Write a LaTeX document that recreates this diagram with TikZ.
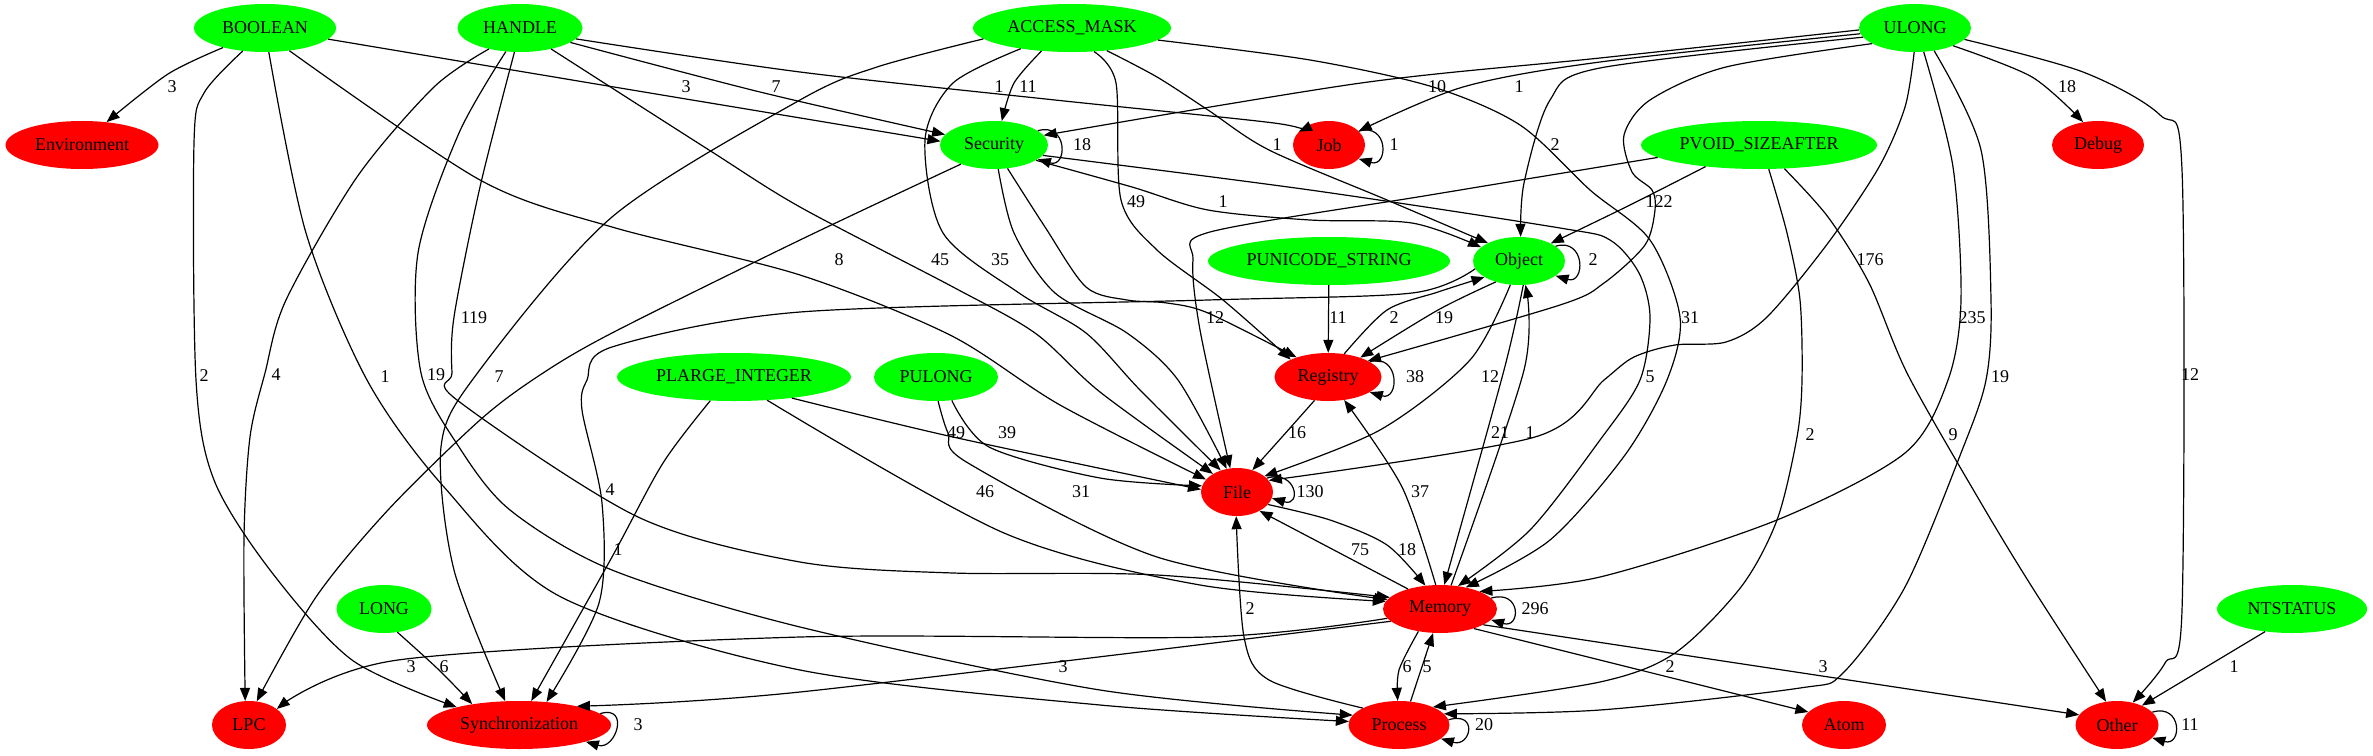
\documentclass[tikz,border=0pt]{standalone}
\usepackage{fontspec}
\setmainfont{Liberation Serif}
\usetikzlibrary{shapes.geometric,arrows.meta}
\definecolor{gvgreen}{RGB}{0,255,0}
\definecolor{gvred}{RGB}{255,0,0}
\newcommand\gvfont{\fontsize{18}{20}\selectfont}
\begin{document}
\begin{tikzpicture}[x=1pt,y=-1pt,
  gn/.style={ellipse, fill=gvgreen, inner sep=0pt, minimum height=48pt, font=\gvfont},
  rn/.style={ellipse, fill=gvred, inner sep=0pt, minimum height=48pt, font=\gvfont},
  conn/.style={line width=1.2pt, -{Triangle[length=13pt,width=10pt]}},
  lbl/.style={font=\gvfont, inner sep=0pt},
  loopc/.style={line width=1.2pt, -{Triangle[length=13pt,width=10pt]}}]
\useasboundingbox (0,0) rectangle (2373,755);
% nodes
\node[gn, minimum width=142pt] (BOOLEAN) at (265,28) {BOOLEAN};
\node[gn, minimum width=125pt] (HANDLE) at (520,28) {HANDLE};
\node[gn, minimum width=198pt] (ACCESS) at (1072,28) {ACCESS\_MASK};
\node[gn, minimum width=112pt] (ULONG) at (1915,28) {ULONG};
\node[rn, minimum width=153pt] (Environment) at (82,145) {Environment};
\node[gn, minimum width=108pt] (Security) at (994,145) {Security};
\node[rn, minimum width=72pt] (Job) at (1329,145) {Job};
\node[gn, minimum width=236pt] (PVOID) at (1759,145) {PVOID\_SIZEAFTER};
\node[rn, minimum width=92pt] (Debug) at (2098,145) {Debug};
\node[gn, minimum width=242pt] (PUNICODE) at (1329,261) {PUNICODE\_STRING};
\node[gn, minimum width=92pt] (Object) at (1519,261) {Object};
\node[gn, minimum width=234pt] (PLARGE) at (734,377) {PLARGE\_INTEGER};
\node[gn, minimum width=124pt] (PULONG) at (936,377) {PULONG};
\node[rn, minimum width=107pt] (Registry) at (1328,377) {Registry};
\node[rn, minimum width=72pt] (File) at (1237,492) {File};
\node[rn, minimum width=114pt] (Memory) at (1440,609) {Memory};
\node[gn, minimum width=95pt] (LONG) at (384,609) {LONG};
\node[gn, minimum width=150pt] (NTSTATUS) at (2292,609) {NTSTATUS};
\node[rn, minimum width=74pt] (LPC) at (249,725) {LPC};
\node[rn, minimum width=184pt] (Sync) at (519,725) {Synchronization};
\node[rn, minimum width=101pt] (Process) at (1399,725) {Process};
\node[rn, minimum width=84pt] (Atom) at (1844,725) {Atom};
\node[rn, minimum width=83pt] (Other) at (2117,725) {Other};
% edges
\draw[conn] plot[smooth] coordinates {(BOOLEAN.-155) (168,74) (Environment.43)};
\draw[conn] plot[smooth] coordinates {(BOOLEAN.-10) (620,88) (Security.176)};
\draw[conn] plot[smooth] coordinates {(BOOLEAN.-134) (204,93) (194,143) (196,380) (214,480) (270,570) (352,660) (Sync.164)};
\draw[conn] plot[smooth] coordinates {(BOOLEAN.-81) (306,233) (367,380) (444,487) (561,597) (800,670) (1100,705) (Process.176)};
\draw[conn] plot[smooth] coordinates {(BOOLEAN.-43) (480,180) (612,227) (800,275) (950,335) (1060,405) (File.158)};
\draw[conn] plot[smooth] coordinates {(HANDLE.-16) (760,92) (Security.168)};
\draw[conn] plot[smooth] coordinates {(HANDLE.-11) (800,72) (1055,100) (1274,123) (Job.156)};
\draw[conn] plot[smooth] coordinates {(HANDLE.-34) (709,150) (800,207) (953,287) (1035,333) (1100,392) (File.143)};
\draw[conn] plot[smooth] coordinates {(HANDLE.-146) (434,87) (357,177) (286,300) (265,373) (250,437) (244,537) (LPC.99)};
\draw[conn] plot[smooth] coordinates {(HANDLE.-121) (459,133) (418,253) (421,373) (459,447) (510,510) (612,570) (800,627) (1100,690) (Process.168)};
\draw[conn] plot[smooth] coordinates {(HANDLE.-103) (480,187) (454,317) (452,373) (457,400) (638,517) (800,562) (953,573) (1157,575) (Memory.167)};
\draw[conn] plot[smooth] coordinates {(ACCESS.-143) (1014,83) (Security.72)};
\draw[conn] plot[smooth] coordinates {(ACCESS.-173) (877,67) (800,100) (612,217) (476,375) (441,447) (454,570) (Sync.120)};
\draw[conn] plot[smooth] coordinates {(ACCESS.-158) (953,83) (925,140) (943,233) (1019,293) (1086,333) (1140,390) (File.127)};
\draw[conn] plot[smooth] coordinates {(ACCESS.-47) (1116,83) (1121,200) (1157,250) (1223,300) (Registry.155)};
\draw[conn] plot[smooth] coordinates {(ACCESS.-33) (1157,77) (1208,110) (1269,150) (1387,200) (Object.150)};
\draw[conn] plot[smooth] coordinates {(ACCESS.-8) (1310,60) (1433,87) (1520,125) (1590,190) (1650,240) (1680,317) (1667,380) (1625,455) (1550,540) (Memory.40)};
\draw[conn] plot[smooth] coordinates {(ULONG.182) (1600,58) (1361,83) (Security.11)};
\draw[conn] plot[smooth] coordinates {(ULONG.186) (1600,62) (1463,87) (Job.25)};
\draw[conn] plot[smooth] coordinates {(ULONG.190) (1600,68) (1550,100) (1524,183) (Object.86)};
\draw[conn] plot[smooth] coordinates {(ULONG.200) (1726,67) (1650,100) (1624,135) (1632,172) (1652,190) (1655,210) (1645,245) (1604,283) (1560,305) (Registry.22)};
\draw[conn] plot[smooth] coordinates {(ULONG.-92) (1905,107) (1879,167) (1828,243) (1767,317) (1726,342) (1675,345) (1634,357) (1604,380) (1535,437) (File.20)};
\draw[conn] plot[smooth] coordinates {(ULONG.-70) (1953,167) (1961,300) (1948,380) (1905,453) (1777,520) (1600,577) (Memory.24)};
\draw[conn] plot[smooth] coordinates {(ULONG.-50) (1981,150) (1991,300) (1986,380) (1961,453) (1905,587) (1843,673) (1800,688) (1600,710) (Process.14)};
\draw[conn] plot[smooth] coordinates {(ULONG.-25) (2032,77) (Debug.123)};
\draw[conn] plot[smooth] coordinates {(ULONG.-13) (2083,72) (2160,115) (2182,170) (2182,610) (2165,663) (Other.55)};
\draw[conn] plot[smooth] coordinates {(PVOID.202) (1630,205) (Object.29)};
\draw[conn] plot[smooth] coordinates {(PVOID.187) (1430,195) (1210,232) (1193,260) (1200,330) (File.106)};
\draw[conn] plot[smooth] coordinates {(PVOID.-68) (1787,233) (1800,300) (1802,380) (1797,437) (1777,520) (1741,587) (1675,653) (1600,682) (Process.28)};
\draw[conn] plot[smooth] coordinates {(PVOID.-43) (1828,217) (1869,283) (1908,375) (1981,503) (2032,587) (Other.115)};
\draw[conn] (PUNICODE) -- (Registry);
\draw[conn] plot[smooth] coordinates {(Object.-138) (1438,310) (Registry.31)};
\draw[conn] plot[smooth] coordinates {(Registry.55) (1387,310) (1438,292) (Object.-155)};
\draw[conn] plot[smooth] coordinates {(Object.-170) (1412,293) (1208,300) (800,312) (612,347) (587,380) (582,410) (602,503) (599,603) (Sync.40)};
\draw[conn] plot[smooth] coordinates {(Object.-110) (1470,360) (1380,430) (File.30)};
\draw[conn] plot[smooth] coordinates {(Object.-80) (1504,370) (Memory.80)};
\draw[conn] plot[smooth] coordinates {(Memory.65) (1524,370) (Object.-75)};
\draw[conn] plot[smooth] coordinates {(PLARGE.-135) (663,463) (612,557) (Sync.63)};
\draw[conn] plot[smooth] coordinates {(PLARGE.-20) (953,437) (File.176)};
\draw[conn] plot[smooth] coordinates {(PLARGE.-35) (1004,533) (1200,585) (Memory.172)};
\draw[conn] plot[smooth] coordinates {(PULONG.-56) (989,447) (1100,478) (File.170)};
\draw[conn] plot[smooth] coordinates {(PULONG.-85) (948,433) (968,463) (1157,557) (Memory.170)};
\draw[conn] (Memory.148) -- (File.-40);
\draw[conn] plot[smooth] coordinates {(File.-22) (1330,520) (1387,545) (Memory.122)};
\draw[conn] plot[smooth] coordinates {(Memory.100) (1402,487) (Registry.-55)};
\draw[conn] plot[smooth] coordinates {(Memory.190) (1208,637) (800,637) (398,660) (LPC.30)};
\draw[conn] plot[smooth] coordinates {(Memory.194) (800,692) (Sync.18)};
\draw[conn] plot[smooth] coordinates {(Memory.-134) (1399,670) (Process.93)};
\draw[conn] (Process.64) -- (Memory.-106);
\draw[conn] (Memory.-30) -- (Atom.160);
\draw[conn] (Memory.-20) -- (Other.165);
\draw[conn] plot[smooth] coordinates {(Process.155) (1269,680) (1244,637) (File.-92)};
\draw[conn] plot[smooth] coordinates {(Registry.-120) (1282,437) (File.55)};
\draw[conn] plot[smooth] coordinates {(LONG.-60) (439,670) (Sync.156)};
\draw[conn] (NTSTATUS.-140) -- (Other.38);
\draw[conn] plot[smooth] coordinates {(Security.-150) (800,240) (612,333) (540,375) (480,420) (388,510) (316,597) (LPC.72)};
\draw[conn] plot[smooth] coordinates {(Security.-80) (1014,233) (1055,293) (1127,333) (1178,380) (File.114)};
\draw[conn] plot[smooth] coordinates {(Security.-60) (1045,227) (1086,287) (1127,300) (1167,303) (1208,313) (Registry.148)};
\draw[conn] plot[smooth] coordinates {(Security.-20) (1132,187) (1208,210) (1310,220) (1412,223) (Object.160)};
\draw[conn] plot[smooth] coordinates {(Security.-12) (1310,190) (1560,228) (1610,240) (1639,273) (1650,317) (1640,380) (1600,440) (1530,530) (Memory.52)};
% self loops
\draw[loopc] (Security.18) .. controls +(30pt,9pt) and +(30pt,-9pt) .. (Security.-18);
\draw[loopc] (Job.25) .. controls +(30pt,9pt) and +(30pt,-9pt) .. (Job.-25);
\draw[loopc] (Object.22) .. controls +(30pt,9pt) and +(30pt,-9pt) .. (Object.-22);
\draw[loopc] (Registry.20) .. controls +(30pt,9pt) and +(30pt,-9pt) .. (Registry.-20);
\draw[loopc] (File.25) .. controls +(30pt,9pt) and +(30pt,-9pt) .. (File.-10);
\draw[loopc] (Memory.12) .. controls +(30pt,9pt) and +(30pt,-9pt) .. (Memory.-12);
\draw[loopc] (Process.6) .. controls +(30pt,9pt) and +(30pt,-9pt) .. (Process.-18);
\draw[loopc] (Sync.8) .. controls +(30pt,9pt) and +(30pt,-9pt) .. (Sync.-14);
\draw[loopc] (Other.20) .. controls +(30pt,9pt) and +(30pt,-9pt) .. (Other.-20);
% labels
\node[lbl] (l1) at (172,87) {3};
\node[lbl] (l2) at (686,87) {3};
\node[lbl] (l3) at (204,376) {2};
\node[lbl] (l4) at (385,377) {1};
\node[lbl] (l5) at (839,260) {8};
\node[lbl] (l6) at (776,87) {7};
\node[lbl] (l7) at (999,87) {1};
\node[lbl] (l8) at (940,260) {45};
\node[lbl] (l9) at (276,375) {4};
\node[lbl] (l10) at (436,375) {19};
\node[lbl] (l11) at (474,318) {119};
\node[lbl] (l12) at (1028,87) {11};
\node[lbl] (l13) at (499,377) {7};
\node[lbl] (l14) at (1000,260) {35};
\node[lbl] (l15) at (1136,202) {49};
\node[lbl] (l16) at (1277,145) {1};
\node[lbl] (l17) at (1690,318) {31};
\node[lbl] (l18) at (1437,87) {10};
\node[lbl] (l19) at (1519,87) {1};
\node[lbl] (l20) at (1555,145) {2};
\node[lbl] (l21) at (1659,202) {122};
\node[lbl] (l22) at (1870,260) {176};
\node[lbl] (l23) at (1972,318) {235};
\node[lbl] (l24) at (2000,377) {19};
\node[lbl] (l25) at (2067,87) {18};
\node[lbl] (l26) at (2190,375) {12};
\node[lbl] (l28) at (1215,318) {12};
\node[lbl] (l29) at (1810,435) {2};
\node[lbl] (l30) at (1953,435) {9};
\node[lbl] (l31) at (1338,318) {11};
\node[lbl] (l32) at (1593,260) {2};
\node[lbl] (l33) at (1444,318) {19};
\node[lbl] (l34) at (1394,318) {2};
\node[lbl] (l35) at (610,490) {4};
\node[lbl] (l36) at (1490,377) {12};
\node[lbl] (l37) at (1500,433) {21};
\node[lbl] (l38) at (1530,433) {1};
\node[lbl] (l39) at (618,550) {1};
\node[lbl] (l40) at (956,433) {49};
\node[lbl] (l41) at (985,492) {46};
\node[lbl] (l42) at (1007,433) {39};
\node[lbl] (l43) at (1081,492) {31};
\node[lbl] (l44) at (1535,609) {296};
\node[lbl] (l45) at (1360,550) {75};
\node[lbl] (l46) at (1407,550) {18};
\node[lbl] (l47) at (1420,492) {37};
\node[lbl] (l48) at (411,667) {3};
\node[lbl] (l49) at (1063,667) {3};
\node[lbl] (l50) at (1407,667) {6};
\node[lbl] (l51) at (1427,667) {5};
\node[lbl] (l52) at (1670,667) {2};
\node[lbl] (l53) at (1823,667) {3};
\node[lbl] (l54) at (1310,492) {130};
\node[lbl] (l55) at (1250,609) {2};
\node[lbl] (l56) at (1484,725) {20};
\node[lbl] (l57) at (638,725) {3};
\node[lbl] (l58) at (1415,377) {38};
\node[lbl] (l59) at (1297,433) {16};
\node[lbl] (l60) at (444,667) {6};
\node[lbl] (l61) at (2234,667) {1};
\node[lbl] (l62) at (1394,145) {1};
\node[lbl] (l63) at (1082,145) {18};
\node[lbl] (l67) at (1223,202) {1};
\node[lbl] (l68) at (1650,377) {5};
\node[lbl] (l69) at (2190,725) {11};
\end{tikzpicture}
\end{document}
